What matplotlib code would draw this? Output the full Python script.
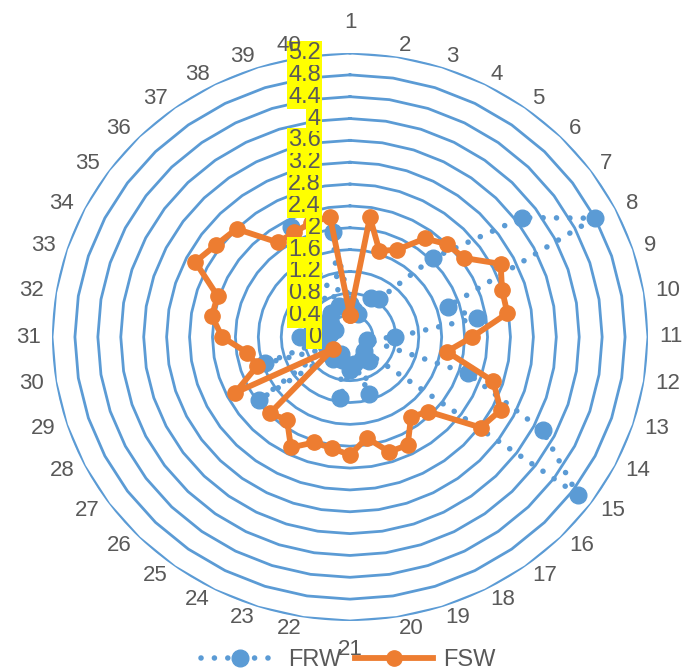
import numpy as np
import matplotlib
matplotlib.use("Agg")
import matplotlib.pyplot as plt
from matplotlib.transforms import offset_copy

# ---- data ----
categories = [str(i) for i in range(1, 41)]
frw = [0.60, 0.50, 0.45, 0.80, 0.85, 2.04, 3.72, 4.79, 1.79, 2.25,
       0.79, 0.30, 2.16, 3.77, 4.91, 0.35, 0.55, 0.45, 1.10, 0.50,
       0.60, 1.14, 0.45, 0.35, 0.50, 0.40, 1.96, 0.45, 1.56, 0.50,
       0.87, 0.35, 0.45, 0.30, 0.40, 0.50, 0.55, 2.26, 0.60, 1.95]
fsw = [0.40, 2.22, 1.66, 1.79, 2.23, 2.40, 2.46, 2.95, 2.79, 2.78,
       2.13, 1.71, 2.63, 2.95, 2.82, 1.93, 1.81, 2.22, 2.21, 1.87,
       2.16, 2.06, 2.03, 2.27, 1.87, 1.98, 0.36, 2.25, 1.70, 1.82,
       2.23, 2.44, 2.43, 3.03, 2.88, 2.80, 2.14, 2.15, 2.20, 2.23]
radial_ticks = [0, 0.4, 0.8, 1.2, 1.6, 2.0, 2.4, 2.8, 3.2, 3.6, 4.0, 4.4, 4.8, 5.2]
tick_labels = ["0", "0.4", "0.8", "1.2", "1.6", "2", "2.4", "2.8", "3.2", "3.6",
               "4", "4.4", "4.8", "5.2"]
series_names = ["FRW", "FSW"]

# ---- style ----
plt.rcParams["font.family"] = ["Liberation Sans", "DejaVu Sans"]
BLUE = "#5B9BD5"
ORANGE = "#ED7D31"
GRAY = "#595959"

fig = plt.figure(figsize=(6.89, 6.72), dpi=100)
ax = fig.add_axes([52 / 689, 51 / 672, 596 / 689, 568 / 672], projection="polar")
ax.set_aspect("auto")
ax.set_theta_zero_location("N")
ax.set_theta_direction(-1)
ax.set_ylim(0, radial_ticks[-1])
ax.grid(False)
ax.spines["polar"].set_visible(False)
ax.set_xticks([])
ax.set_yticks([])
ax.patch.set_visible(False)

n = len(categories)
theta = np.arange(n) * 2 * np.pi / n
tc = np.append(theta, theta[0])

# polygonal gridlines
for lvl in radial_ticks[1:]:
    ax.plot(tc, [lvl] * (n + 1), color=BLUE, lw=2.0, zorder=1, solid_joinstyle="round")

ax.plot(tc, frw + frw[:1], color=BLUE, lw=4.0, linestyle=(0, (0.01, 2.4)),
        dash_capstyle="round", marker="o", ms=12, mec=BLUE, mfc=BLUE,
        zorder=3, label=series_names[0])
ax.plot(tc, fsw + fsw[:1], color=ORANGE, lw=4.2, marker="o", ms=11,
        mec=ORANGE, mfc=ORANGE, zorder=4, label=series_names[1],
        solid_joinstyle="round")

# radial value labels (yellow boxes)
trans = offset_copy(ax.transData, fig=fig, x=-29, y=0, units="dots")
for v, lab in zip(radial_ticks, tick_labels):
    ax.text(0, v, lab, transform=trans, ha="right", va="center", fontsize=17,
            color=GRAY, zorder=5,
            bbox=dict(boxstyle="square,pad=0.06", fc="#FFFF00", ec="none"))

# category labels
for th, lab in zip(theta, categories):
    s, c = np.sin(th), np.cos(th)
    if abs(s) < 1e-6:
        ha = "center"
        r = 5.75 if c > 0 else 5.72
    else:
        ha = "left" if s > 0 else "right"
        r = 5.40
    ax.text(th, r, lab, ha=ha, va="center", fontsize=16, color=GRAY, zorder=6)

fig.legend(loc="center", bbox_to_anchor=(0.505, 0.018), ncol=2, frameon=False,
           fontsize=17, handlelength=3.3, columnspacing=0.6, handletextpad=0.4,
           labelcolor=GRAY)

fig.savefig("out.png", dpi=100)
